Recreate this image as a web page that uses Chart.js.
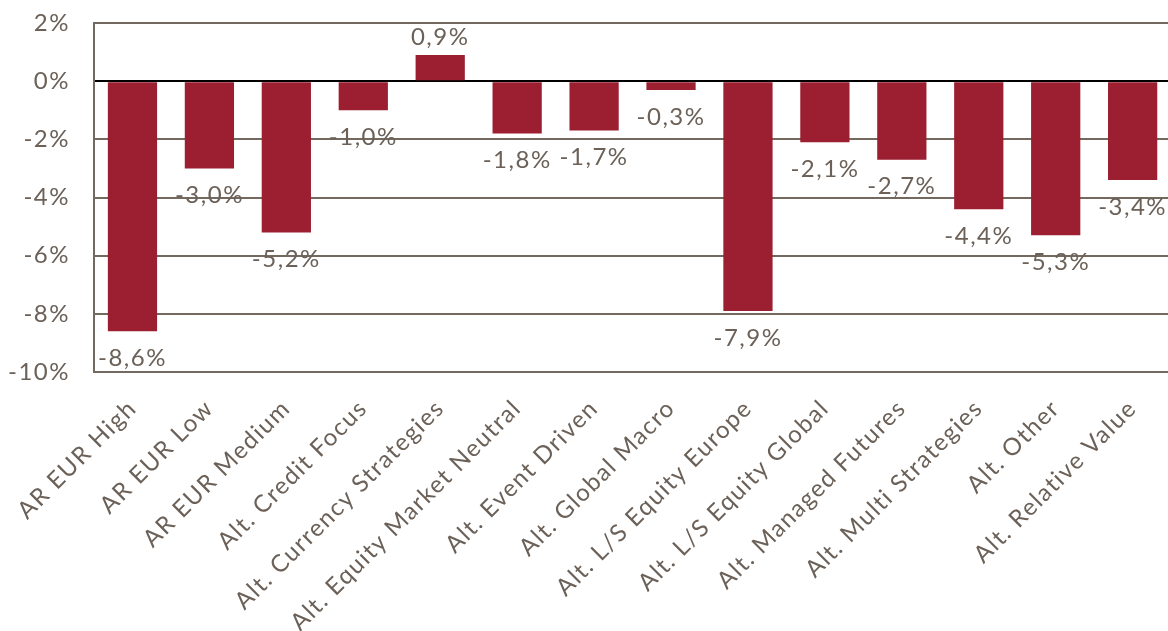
<!DOCTYPE html>
<html>
<head>
<meta charset="utf-8">
<script src="https://cdn.jsdelivr.net/npm/chart.js@4.4.1/dist/chart.umd.min.js"></script>
<style>
  html, body { margin: 0; padding: 0; background: #fff; overflow: hidden; }
  #wrap { width: 1175px; height: 631px; }
</style>
</head>
<body>
<div id="wrap"><canvas id="perfChart"></canvas></div>
<script>
// fund categories and their returns (%)
const categories = [
    "AR EUR High", "AR EUR Low", "AR EUR Medium", "Alt. Credit Focus",
    "Alt. Currency Strategies", "Alt. Equity Market Neutral", "Alt. Event Driven",
    "Alt. Global Macro", "Alt. L/S Equity Europe", "Alt. L/S Equity Global",
    "Alt. Managed Futures", "Alt. Multi Strategies", "Alt. Other", "Alt. Relative Value"
];
const returns = [-8.6, -3.0, -5.2, -1.0, 0.9, -1.8, -1.7, -0.3, -7.9, -2.1, -2.7, -4.4, -5.3, -3.4];
const yTicks = [-10, -8, -6, -4, -2, 0, 2];

const FONT = "Lato, 'DejaVu Sans', sans-serif";
const FONT_SIZE = 24;
const SPACING = "1.5px";
const TEXT = "#6b6158";
const GRID = "#74695f";
const BAR = "#9b1f30";

function pct(v) {
    return v.toFixed(1).replace(".", ",") + "%";
}

// wider tracking on all text (canvas state is reset on resize, so set it each pass)
const tracking = {
    id: "tracking",
    beforeLayout(chart) { chart.ctx.letterSpacing = SPACING; },
    beforeDraw(chart) { chart.ctx.letterSpacing = SPACING; }
};

// value labels under negative bars, above positive ones
const valueLabels = {
    id: "valueLabels",
    afterDatasetsDraw(chart) {
        const ctx = chart.ctx;
        const meta = chart.getDatasetMeta(0);
        ctx.save();
        ctx.letterSpacing = SPACING;
        ctx.font = FONT_SIZE + "px " + FONT;
        ctx.fillStyle = TEXT;
        ctx.textAlign = "center";
        meta.data.forEach((bar, i) => {
            const v = returns[i];
            const p = bar.getProps(["x", "y"], true);
            if (v < 0) {
                ctx.textBaseline = "top";
                ctx.fillText(pct(v), p.x, p.y + 15);
            } else {
                ctx.textBaseline = "bottom";
                ctx.fillText(pct(v), p.x, p.y - 6);
            }
        });
        ctx.restore();
    }
};

new Chart(document.getElementById("perfChart"), {
    type: "bar",
    data: {
        labels: categories,
        datasets: [{
            data: returns,
            backgroundColor: BAR,
            borderWidth: 0,
            categoryPercentage: 1.0,
            barPercentage: 0.64
        }]
    },
    options: {
        responsive: true,
        maintainAspectRatio: false,
        animation: false,
        layout: { padding: 0 },
        plugins: {
            legend: { display: false },
            tooltip: { enabled: false }
        },
        scales: {
            x: {
                grid: { display: false, drawTicks: false },
                border: { display: false },
                ticks: {
                    color: TEXT,
                    font: { family: FONT, size: FONT_SIZE },
                    minRotation: 45,
                    maxRotation: 45,
                    autoSkip: false,
                    padding: 22
                },
                afterFit(scale) {
                    scale.height = 259;
                    // let the y axis alone decide where the plot starts
                    scale.paddingLeft = 0;
                }
            },
            y: {
                min: -10,
                max: 2,
                afterBuildTicks(scale) {
                    scale.ticks = yTicks.map(v => ({ value: v }));
                },
                grid: {
                    drawTicks: false,
                    lineWidth: 2,
                    color: c => (c.tick && c.tick.value === 0) ? "#000" : GRID
                },
                border: { display: true, color: GRID, width: 2 },
                ticks: {
                    color: TEXT,
                    font: { family: FONT, size: FONT_SIZE },
                    padding: 24,
                    callback: v => v + "%"
                },
                afterFit(scale) {
                    scale.width = 94;
                    // tick padding would otherwise push the plot top down
                    scale.paddingTop = 23;
                    scale.paddingBottom = 14;
                }
            }
        }
    },
    plugins: [tracking, valueLabels]
});
</script>
</body>
</html>
